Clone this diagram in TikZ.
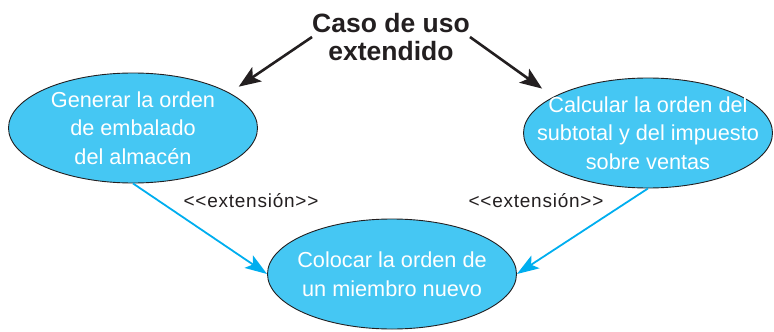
\documentclass[tikz,border=0pt]{standalone}
\usepackage{fontspec}
\setmainfont{Liberation Sans}
\newfontfamily\tagfont[LetterSpace=4]{Liberation Sans}
\usepackage{xcolor}
\usepackage{tikz}
\usetikzlibrary{arrows.meta, positioning, shapes.geometric}
\definecolor{ucblue}{RGB}{69,199,243}
\definecolor{extblue}{RGB}{0,174,239}
\definecolor{inkblack}{RGB}{35,31,32}

\begin{document}
\begin{tikzpicture}[
  x=1pt, y=-1pt,
  every node/.style={align=center, inner sep=0pt},
  usecase/.style={ellipse, draw=inkblack, line width=0.9pt, fill=ucblue,
                  minimum width=249pt, minimum height=110pt},
  uctext/.style={text=white, font=\fontsize{21.7}{28.5}\selectfont},
  titletext/.style={text=inkblack, font=\fontsize{26.5}{28}\selectfont\bfseries},
  exttag/.style={text=inkblack, font=\tagfont\fontsize{19}{20}\selectfont},
  callout/.style={-{Stealth[length=22pt, width=17pt, inset=5pt]},
                  draw=inkblack, line width=2.6pt},
  extarrow/.style={-{Stealth[length=22pt, width=15pt, inset=5pt]},
                   draw=extblue, line width=1.8pt},
]
\useasboundingbox (0,0) rectangle (774,332);

%% Title
\node[titletext] (title) at (391,37) {Caso de uso\\extendido};

%% Use cases
\node[usecase] (gen) at (133,128) {};
\node[uctext] (gentxt) at (gen) {Generar la orden\\de embalado\\del almac\'en};

\node[usecase] (calc) at (648,133) {};
\node[uctext] (calctxt) at (calc) {Calcular la orden del\\subtotal y del impuesto\\sobre ventas};

\node[usecase] (place) at (392,274) {};
\node[uctext] (placetxt) at (place) {Colocar la orden de\\un miembro nuevo};

%% Stereotype tags
\node[exttag] (tagleft) at (251,201) {<<extensi\'on>>};
\node[exttag] (tagright) at (536,201) {<<extensi\'on>>};

%% Arrows
\draw[callout, shorten >=11pt] (title.west) -- (gen.20);
\draw[callout, shorten >=14pt] (title.east) -- (calc.159);
\draw[extarrow] (gen.south) -- (place.west);
\draw[extarrow] (calc.south) -- (place.east);

\end{tikzpicture}
\end{document}
